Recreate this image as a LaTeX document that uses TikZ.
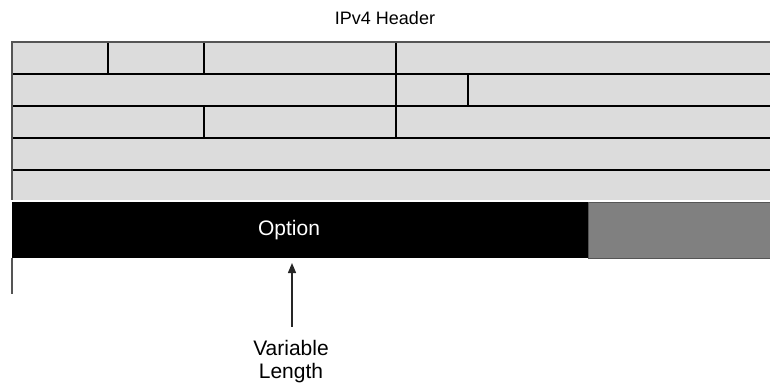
\documentclass[tikz,border=0pt]{standalone}
\usepackage{fontspec}
\setmainfont{Liberation Sans}
\usetikzlibrary{arrows.meta,positioning}

\definecolor{hdrlight}{HTML}{DCDCDC}
\definecolor{padgray}{HTML}{808080}
\definecolor{rimgray}{HTML}{555555}

\begin{document}
\begin{tikzpicture}[
  x=1pt,
  y=1pt,
  >={Triangle[length=10pt,width=8pt]},
  font=\fontsize{18}{21.7}\selectfont,
  big/.style={font=\fontsize{21}{23.5}\selectfont},
  hdrrow/.style={fill=hdrlight,inner sep=0pt,outer sep=0pt,
    minimum width=758pt,minimum height=32pt,anchor=north west},
  sep/.style={line width=1.6pt,draw=black},
  rim/.style={line width=1.2pt,draw=rimgray},
  optbox/.style={fill=black,inner sep=0pt,outer sep=0pt,
    minimum width=576pt,minimum height=56pt,anchor=north west},
  padbox/.style={fill=padgray,draw=rimgray,line width=0.8pt,inner sep=0pt,
    minimum width=182pt,minimum height=56pt,anchor=north west},
  pointer/.style={->,line width=1.3pt,draw=black!85}
]
  \useasboundingbox (0,0) rectangle (770,-388);

  \node (title) at (385,-18.5) {IPv4 Header};

  % header rows
  \node[hdrrow] (row1) at (12,-42) {};
  \node[hdrrow] (row2) at (12,-74) {};
  \node[hdrrow] (row3) at (12,-106) {};
  \node[hdrrow] (row4) at (12,-138) {};
  \node[hdrrow,minimum height=30pt] (row5) at (12,-170) {};

  \draw[sep] (row1.south west) -- (row1.south east);
  \draw[sep] (row2.south west) -- (row2.south east);
  \draw[sep] (row3.south west) -- (row3.south east);
  \draw[sep] (row4.south west) -- (row4.south east);

  \draw[sep] (108,-42) -- (108,-74);
  \draw[sep] (204,-42) -- (204,-74);
  \draw[sep] (396,-42) -- (396,-138);
  \draw[sep] (468,-74) -- (468,-106);
  \draw[sep] (204,-106) -- (204,-138);

  \draw[rim] (row1.north east) -- (row1.north west) -- (row5.south west);

  % options part
  \node[optbox] (option) at (12,-201.5) {};
  \node[padbox] (padding) at (588,-201.5) {};
  \node[big,text=white] (optlabel) at (289,-230.5) {Option};
  \draw[rim] (option.south west) -- ++(0,-36);

  \node[big,align=center,inner sep=0pt] (length) at (291,-361.6)
    {Variable\\Length};
  \coordinate (tip) at (292,-263);
  \draw[pointer,shorten <=13pt] (length.north -| tip) -- (tip);
\end{tikzpicture}
\end{document}
